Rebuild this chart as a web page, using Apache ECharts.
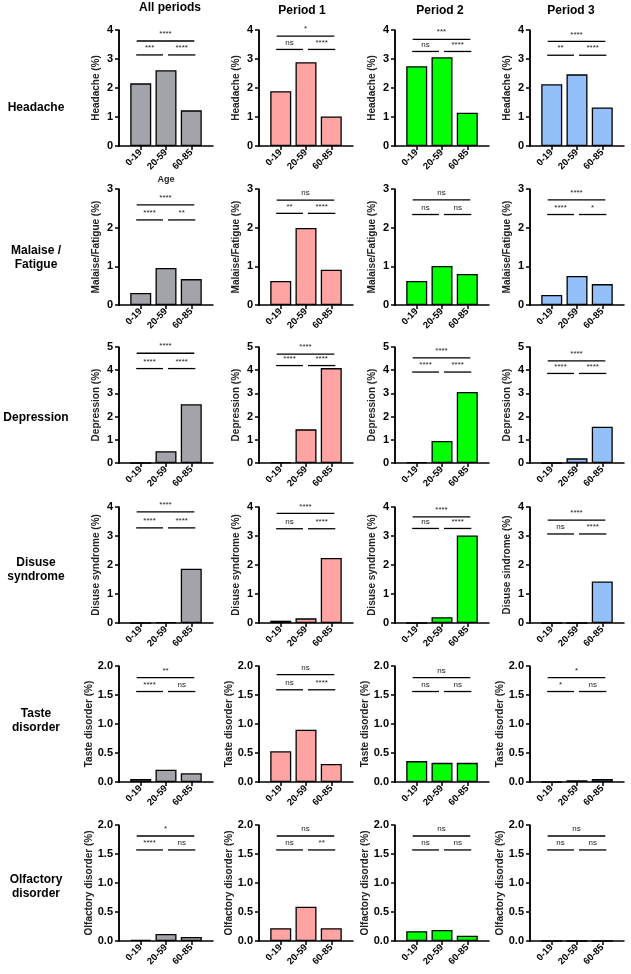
<!DOCTYPE html>
<html>
<head>
<meta charset="utf-8">
<script src="https://cdn.jsdelivr.net/npm/echarts@6/dist/echarts.min.js"></script>
<style>
html, body { margin: 0; padding: 0; background: #fff; }
#chart { width: 631px; height: 974px; }
</style>
</head>
<body>
<div id="chart"></div>
<script>
// categories
const ageGroups = ['0-19', '20-59', '60-85'];
const periods = ['All periods', 'Period 1', 'Period 2', 'Period 3'];
const symptoms = ['Headache', 'Malaise /\nFatigue', 'Depression', 'Disuse\nsyndrome', 'Taste\ndisorder', 'Olfactory\ndisorder'];
const yTitles = [
    ['Headache (%)', 'Headache (%)', 'Headache (%)', 'Headache (%)'],
    ['Malaise/Fatigue (%)', 'Malaise/Fatigue (%)', 'Malaise/Fatigue (%)', 'Malaise/Fatigue (%)'],
    ['Depression (%)', 'Depression (%)', 'Depression (%)', 'Depression (%)'],
    ['Disuse syndrome (%)', 'Disuse syndrome (%)', 'Disuse syndrome (%)', 'Disuse sindrome (%)'],
    ['Taste disorder (%)', 'Taste disorder (%)', 'Taste disorder (%)', 'Taste disorder (%)'],
    ['Olfactory disorder (%)', 'Olfactory disorder (%)', 'Olfactory disorder (%)', 'Olfactory disorder (%)']
];
const yMax = [4, 3, 5, 4, 2, 2];
const yStep = [1, 1, 1, 1, 0.5, 0.5];

// bar values, one row per period column, values per age group (%)
const headache = [[2.16, 2.61, 1.23], [1.89, 2.89, 1.02], [2.75, 3.06, 1.15], [2.13, 2.47, 1.33]];
const malaise = [[0.31, 0.96, 0.67], [0.62, 1.99, 0.91], [0.62, 1.01, 0.80], [0.26, 0.75, 0.54]];
const depression = [[0, 0.51, 2.53], [0.04, 1.45, 4.09], [0.04, 0.95, 3.06], [0, 0.20, 1.56]];
const disuse = [[0, 0.03, 1.87], [0.08, 0.16, 2.24], [0, 0.20, 3.02], [0, 0, 1.43]];
const taste = [[0.05, 0.21, 0.15], [0.53, 0.90, 0.31], [0.36, 0.33, 0.33], [0, 0.03, 0.05]];
const olfactory = [[0.02, 0.12, 0.07], [0.22, 0.59, 0.22], [0.17, 0.19, 0.09], [0, 0, 0]];
const values = [headache, malaise, depression, disuse, taste, olfactory];

// significance: [0-19 vs 60-85, 0-19 vs 20-59, 20-59 vs 60-85]
const sigHeadache = [['****', '***', '****'], ['*', 'ns', '****'], ['***', 'ns', '****'], ['****', '**', '****']];
const sigMalaise = [['****', '****', '**'], ['ns', '**', '****'], ['ns', 'ns', 'ns'], ['****', '****', '*']];
const sigDepression = [['****', '****', '****'], ['****', '****', '****'], ['****', '****', '****'], ['****', '****', '****']];
const sigDisuse = [['****', '****', '****'], ['****', 'ns', '****'], ['****', 'ns', '****'], ['****', 'ns', '****']];
const sigTaste = [['**', '****', 'ns'], ['ns', 'ns', '****'], ['ns', 'ns', 'ns'], ['*', '*', 'ns']];
const sigOlfactory = [['*', '****', 'ns'], ['ns', 'ns', '**'], ['ns', 'ns', 'ns'], ['ns', 'ns', 'ns']];
const sigs = [sigHeadache, sigMalaise, sigDepression, sigDisuse, sigTaste, sigOlfactory];

// bracket levels in axis units: [top bracket, lower brackets]
const bracketLevels = [
    [[3.62, 3.14], [3.79, 3.33], [3.68, 3.26], [3.61, 3.13]],
    [[2.59, 2.20], [2.71, 2.37], [2.72, 2.34], [2.72, 2.34]],
    [[4.73, 4.07], [4.69, 4.20], [4.53, 3.92], [4.40, 3.86]],
    [[3.83, 3.28], [3.78, 3.25], [3.66, 3.26], [3.55, 3.07]],
    [[1.80, 1.56], [1.85, 1.59], [1.80, 1.56], [1.80, 1.56]],
    [[1.81, 1.57], [1.81, 1.57], [1.81, 1.57], [1.81, 1.57]]
];

const colors = ['#a3a3aa', '#ffa3a3', '#00ff00', '#93c0f8'];
const FONT = '"Liberation Sans", Arial, sans-serif';
const X_MIN = -0.86, X_MAX = 2.86;
const colX = [119, 259, 395, 530];
const rowY = [30, 189, 347, 507, 666, 825];
const rowLabelY = [108, 258, 418, 570, 721, 887];
const colTitleX = [170, 302, 440, 571];

const grid = [], xAxis = [], yAxis = [], series = [], graphic = [];

// column headers and row labels
periods.forEach((p, c) => {
    graphic.push({
        type: 'text', x: colTitleX[c], y: c === 0 ? 8 : 11, silent: true,
        style: { text: p, fontFamily: FONT, fontSize: 12, fontWeight: 'bold', fill: '#000',
                 align: 'center', verticalAlign: 'middle' }
    });
});
symptoms.forEach((s, r) => {
    graphic.push({
        type: 'text', x: 36, y: rowLabelY[r], silent: true,
        style: { text: s, fontFamily: FONT, fontSize: 12, fontWeight: 'bold', fill: '#000',
                 lineHeight: 14, align: 'center', verticalAlign: 'middle' }
    });
});

let idx = 0;
for (let r = 0; r < 6; r++) {
    for (let c = 0; c < 4; c++) {
        grid.push({ left: colX[c], top: rowY[r], width: 94, height: 116 });
        const step = yStep[r];
        const top = yMax[r];
        xAxis.push({
            gridIndex: idx, type: 'value', min: X_MIN, max: X_MAX,
            name: (r === 0 && c === 0) ? 'Age' : '',
            nameLocation: 'middle', nameGap: 27,
            nameTextStyle: { fontFamily: FONT, fontSize: 9, fontWeight: 'bold', color: '#222' },
            axisLine: { onZero: false, lineStyle: { color: '#000', width: 1.5 } },
            axisTick: { show: true, length: 4, customValues: [0, 1, 2], lineStyle: { color: '#000', width: 1.5 } },
            axisLabel: {
                customValues: [0, 1, 2], rotate: 45, margin: 5,
                formatter: v => ageGroups[Math.round(v)],
                fontFamily: FONT, fontSize: 9.5, fontWeight: 'bold', color: '#000'
            },
            splitLine: { show: false }
        });
        yAxis.push({
            gridIndex: idx, type: 'value', min: 0, max: top, interval: step,
            name: yTitles[r][c], nameLocation: 'middle', nameGap: 18,
            nameTextStyle: { fontFamily: FONT, fontSize: 10, fontWeight: 'bold', color: '#222' },
            axisLine: { show: true, onZero: false, lineStyle: { color: '#000', width: 1.5 } },
            axisTick: { show: true, length: 4, lineStyle: { color: '#000', width: 1.5 } },
            axisLabel: {
                margin: 6, formatter: v => step < 1 ? v.toFixed(1) : String(v),
                fontFamily: FONT, fontSize: 11, fontWeight: 'bold', color: '#000'
            },
            splitLine: { show: false }
        });
        series.push({
            type: 'bar', xAxisIndex: idx, yAxisIndex: idx, barWidth: 21,
            data: values[r][c].map((v, i) => [i, v]),
            itemStyle: { color: colors[c], borderColor: '#000', borderWidth: 1.3 },
            silent: true
        });
        const lv = bracketLevels[r][c];
        const lab = sigs[r][c];
        series.push({
            type: 'custom', xAxisIndex: idx, yAxisIndex: idx, silent: true, z: 5, clip: false,
            encode: { x: [0, 1], y: 2 },
            data: [[-0.16, 2.12, lv[0]], [-0.18, 0.88, lv[1]], [1.08, 2.16, lv[1]]],
            renderItem: (params, api) => {
                const p1 = api.coord([api.value(0), api.value(2)]);
                const p2 = api.coord([api.value(1), api.value(2)]);
                const children = [
                    { type: 'rect', shape: { x: p1[0], y: p1[1] - 0.65, width: p2[0] - p1[0], height: 1.3 },
                      style: { fill: '#000' } },
                    { type: 'text', x: (p1[0] + p2[0]) / 2, y: p1[1] - 3,
                      style: { text: lab[params.dataIndex], fontFamily: FONT, fontSize: 8,
                               fill: '#222', align: 'center', verticalAlign: 'bottom' } }
                ];
                if (params.dataIndex === 0) {
                    // left axis spine as a thin filled strip, placed from the axis scale
                    const a = api.coord([X_MIN, 0]);
                    const b = api.coord([X_MIN, top]);
                    children.push({ type: 'rect', shape: { x: a[0] - 0.75, y: b[1], width: 1.5, height: a[1] - b[1] + 0.75 },
                                    style: { fill: '#000' } });
                }
                return { type: 'group', children };
            }
        });
        idx++;
    }
}

const chart = echarts.init(document.getElementById('chart'));
chart.setOption({ animation: false, graphic, grid, xAxis, yAxis, series });
</script>
</body>
</html>
